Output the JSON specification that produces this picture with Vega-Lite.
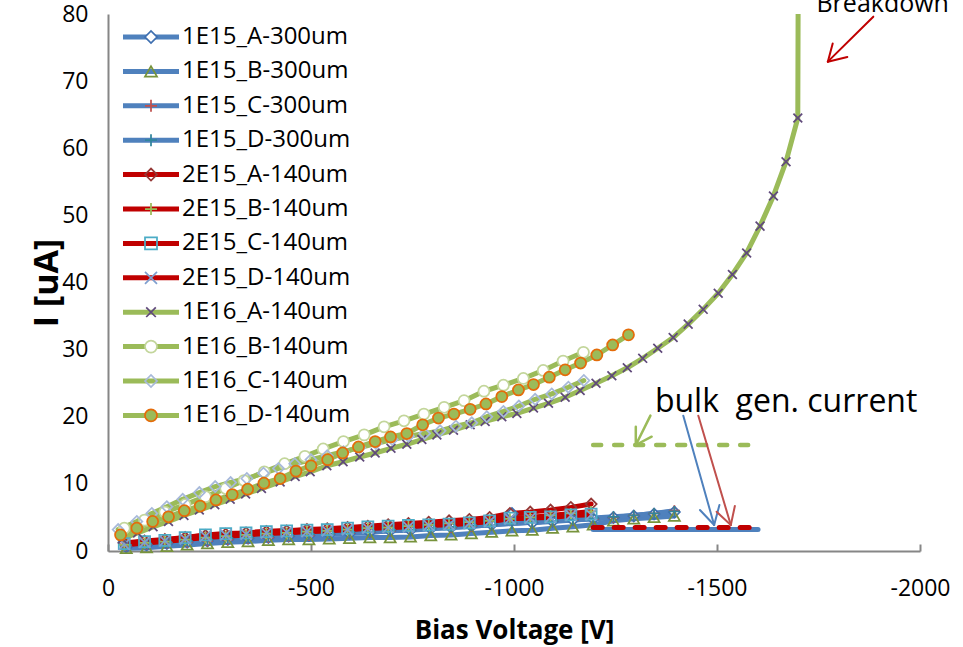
{
  "$schema": "https://vega.github.io/schema/vega-lite/v6.json",
  "width": 812,
  "height": 537,
  "autosize": {"type": "none"},
  "padding": {"left": 108, "top": 14, "right": 43, "bottom": 96},
  "background": "white",
  "config": {"view": {"stroke": null}, "font": "Open Sans", "axis": {"grid": false}},
  "datasets": {
    "iv": [
      {"s":"1E15_A-300um","V":-45,"I":0.6},{"s":"1E15_A-300um","V":-95,"I":0.9},{"s":"1E15_A-300um","V":-145,"I":1.1},{"s":"1E15_A-300um","V":-195,"I":1.3},{"s":"1E15_A-300um","V":-245,"I":1.5},{"s":"1E15_A-300um","V":-295,"I":1.7},{"s":"1E15_A-300um","V":-345,"I":1.9},{"s":"1E15_A-300um","V":-395,"I":2.0},{"s":"1E15_A-300um","V":-445,"I":2.2},{"s":"1E15_A-300um","V":-495,"I":2.3},{"s":"1E15_A-300um","V":-545,"I":2.5},{"s":"1E15_A-300um","V":-595,"I":2.6},{"s":"1E15_A-300um","V":-645,"I":2.8},{"s":"1E15_A-300um","V":-695,"I":3.0},{"s":"1E15_A-300um","V":-745,"I":3.1},{"s":"1E15_A-300um","V":-795,"I":3.3},{"s":"1E15_A-300um","V":-845,"I":3.5},{"s":"1E15_A-300um","V":-895,"I":3.7},{"s":"1E15_A-300um","V":-945,"I":3.9},{"s":"1E15_A-300um","V":-995,"I":5.6},{"s":"1E15_A-300um","V":-1045,"I":4.2},{"s":"1E15_A-300um","V":-1095,"I":4.4},{"s":"1E15_A-300um","V":-1145,"I":4.6},{"s":"1E15_A-300um","V":-1195,"I":4.8},{"s":"1E15_A-300um","V":-1245,"I":5.0},{"s":"1E15_A-300um","V":-1295,"I":5.2},{"s":"1E15_A-300um","V":-1345,"I":5.5},{"s":"1E15_A-300um","V":-1395,"I":5.8},
      {"s":"1E15_B-300um","V":-45,"I":0.4},{"s":"1E15_B-300um","V":-95,"I":0.5},{"s":"1E15_B-300um","V":-145,"I":0.7},{"s":"1E15_B-300um","V":-195,"I":0.9},{"s":"1E15_B-300um","V":-245,"I":1.1},{"s":"1E15_B-300um","V":-295,"I":1.3},{"s":"1E15_B-300um","V":-345,"I":1.4},{"s":"1E15_B-300um","V":-395,"I":1.6},{"s":"1E15_B-300um","V":-445,"I":1.7},{"s":"1E15_B-300um","V":-495,"I":1.7},{"s":"1E15_B-300um","V":-545,"I":1.8},{"s":"1E15_B-300um","V":-595,"I":1.9},{"s":"1E15_B-300um","V":-645,"I":2.0},{"s":"1E15_B-300um","V":-695,"I":2.0},{"s":"1E15_B-300um","V":-745,"I":2.1},{"s":"1E15_B-300um","V":-795,"I":2.3},{"s":"1E15_B-300um","V":-845,"I":2.4},{"s":"1E15_B-300um","V":-895,"I":2.6},{"s":"1E15_B-300um","V":-945,"I":2.8},{"s":"1E15_B-300um","V":-995,"I":3.0},{"s":"1E15_B-300um","V":-1045,"I":3.1},{"s":"1E15_B-300um","V":-1095,"I":3.4},{"s":"1E15_B-300um","V":-1145,"I":3.6},{"s":"1E15_B-300um","V":-1195,"I":3.9},{"s":"1E15_B-300um","V":-1245,"I":4.5},{"s":"1E15_B-300um","V":-1295,"I":4.8},{"s":"1E15_B-300um","V":-1345,"I":5.0},{"s":"1E15_B-300um","V":-1395,"I":5.2},
      {"s":"1E15_C-300um","V":-45,"I":0.8},{"s":"1E15_C-300um","V":-95,"I":1.0},{"s":"1E15_C-300um","V":-145,"I":1.2},{"s":"1E15_C-300um","V":-195,"I":1.3},{"s":"1E15_C-300um","V":-245,"I":1.5},{"s":"1E15_C-300um","V":-295,"I":1.7},{"s":"1E15_C-300um","V":-345,"I":1.9},{"s":"1E15_C-300um","V":-395,"I":2.0},{"s":"1E15_C-300um","V":-445,"I":2.2},{"s":"1E15_C-300um","V":-495,"I":2.3},{"s":"1E15_C-300um","V":-545,"I":2.5},{"s":"1E15_C-300um","V":-595,"I":2.7},{"s":"1E15_C-300um","V":-645,"I":2.8},{"s":"1E15_C-300um","V":-695,"I":3.0},{"s":"1E15_C-300um","V":-745,"I":3.2},{"s":"1E15_C-300um","V":-795,"I":3.4},{"s":"1E15_C-300um","V":-845,"I":3.5},{"s":"1E15_C-300um","V":-895,"I":3.7},{"s":"1E15_C-300um","V":-945,"I":3.9},{"s":"1E15_C-300um","V":-995,"I":4.1},{"s":"1E15_C-300um","V":-1045,"I":4.3},{"s":"1E15_C-300um","V":-1095,"I":4.5},{"s":"1E15_C-300um","V":-1145,"I":4.6},{"s":"1E15_C-300um","V":-1195,"I":4.8},{"s":"1E15_C-300um","V":-1245,"I":5.0},{"s":"1E15_C-300um","V":-1295,"I":5.3},{"s":"1E15_C-300um","V":-1345,"I":5.6},{"s":"1E15_C-300um","V":-1395,"I":6.0},
      {"s":"1E15_D-300um","V":-45,"I":0.9},{"s":"1E15_D-300um","V":-95,"I":1.1},{"s":"1E15_D-300um","V":-145,"I":1.3},{"s":"1E15_D-300um","V":-195,"I":1.5},{"s":"1E15_D-300um","V":-245,"I":1.7},{"s":"1E15_D-300um","V":-295,"I":1.9},{"s":"1E15_D-300um","V":-345,"I":2.0},{"s":"1E15_D-300um","V":-395,"I":2.2},{"s":"1E15_D-300um","V":-445,"I":2.3},{"s":"1E15_D-300um","V":-495,"I":2.5},{"s":"1E15_D-300um","V":-545,"I":2.6},{"s":"1E15_D-300um","V":-595,"I":2.8},{"s":"1E15_D-300um","V":-645,"I":2.9},{"s":"1E15_D-300um","V":-695,"I":3.1},{"s":"1E15_D-300um","V":-745,"I":3.2},{"s":"1E15_D-300um","V":-795,"I":3.4},{"s":"1E15_D-300um","V":-845,"I":3.6},{"s":"1E15_D-300um","V":-895,"I":3.8},{"s":"1E15_D-300um","V":-945,"I":3.9},{"s":"1E15_D-300um","V":-995,"I":4.1},{"s":"1E15_D-300um","V":-1045,"I":4.3},{"s":"1E15_D-300um","V":-1095,"I":4.5},{"s":"1E15_D-300um","V":-1145,"I":4.7},{"s":"1E15_D-300um","V":-1195,"I":4.9},{"s":"1E15_D-300um","V":-1245,"I":5.1},{"s":"1E15_D-300um","V":-1295,"I":5.3},{"s":"1E15_D-300um","V":-1345,"I":5.6},{"s":"1E15_D-300um","V":-1395,"I":5.9},
      {"s":"2E15_A-140um","V":-40,"I":1.2},{"s":"2E15_A-140um","V":-90,"I":1.5},{"s":"2E15_A-140um","V":-140,"I":1.7},{"s":"2E15_A-140um","V":-190,"I":2.0},{"s":"2E15_A-140um","V":-240,"I":2.3},{"s":"2E15_A-140um","V":-290,"I":2.5},{"s":"2E15_A-140um","V":-340,"I":2.7},{"s":"2E15_A-140um","V":-390,"I":2.9},{"s":"2E15_A-140um","V":-440,"I":3.0},{"s":"2E15_A-140um","V":-490,"I":3.2},{"s":"2E15_A-140um","V":-540,"I":3.3},{"s":"2E15_A-140um","V":-590,"I":3.5},{"s":"2E15_A-140um","V":-640,"I":3.7},{"s":"2E15_A-140um","V":-690,"I":3.9},{"s":"2E15_A-140um","V":-740,"I":4.1},{"s":"2E15_A-140um","V":-790,"I":4.3},{"s":"2E15_A-140um","V":-840,"I":4.5},{"s":"2E15_A-140um","V":-890,"I":4.7},{"s":"2E15_A-140um","V":-940,"I":5.0},{"s":"2E15_A-140um","V":-990,"I":5.6},{"s":"2E15_A-140um","V":-1040,"I":5.8},{"s":"2E15_A-140um","V":-1090,"I":6.1},{"s":"2E15_A-140um","V":-1140,"I":6.5},{"s":"2E15_A-140um","V":-1190,"I":7.0},
      {"s":"2E15_B-140um","V":-40,"I":0.9},{"s":"2E15_B-140um","V":-90,"I":1.2},{"s":"2E15_B-140um","V":-140,"I":1.4},{"s":"2E15_B-140um","V":-190,"I":1.7},{"s":"2E15_B-140um","V":-240,"I":2.0},{"s":"2E15_B-140um","V":-290,"I":2.2},{"s":"2E15_B-140um","V":-340,"I":2.4},{"s":"2E15_B-140um","V":-390,"I":2.6},{"s":"2E15_B-140um","V":-440,"I":2.7},{"s":"2E15_B-140um","V":-490,"I":2.9},{"s":"2E15_B-140um","V":-540,"I":3.0},{"s":"2E15_B-140um","V":-590,"I":3.2},{"s":"2E15_B-140um","V":-640,"I":3.4},{"s":"2E15_B-140um","V":-690,"I":3.5},{"s":"2E15_B-140um","V":-740,"I":3.7},{"s":"2E15_B-140um","V":-790,"I":3.9},{"s":"2E15_B-140um","V":-840,"I":4.1},{"s":"2E15_B-140um","V":-890,"I":4.3},{"s":"2E15_B-140um","V":-940,"I":4.5},{"s":"2E15_B-140um","V":-990,"I":4.8},{"s":"2E15_B-140um","V":-1040,"I":5.0},{"s":"2E15_B-140um","V":-1090,"I":5.3},{"s":"2E15_B-140um","V":-1140,"I":5.6},{"s":"2E15_B-140um","V":-1190,"I":5.9},
      {"s":"2E15_C-140um","V":-40,"I":1.1},{"s":"2E15_C-140um","V":-90,"I":1.4},{"s":"2E15_C-140um","V":-140,"I":1.6},{"s":"2E15_C-140um","V":-190,"I":2.0},{"s":"2E15_C-140um","V":-240,"I":2.4},{"s":"2E15_C-140um","V":-290,"I":2.6},{"s":"2E15_C-140um","V":-340,"I":2.7},{"s":"2E15_C-140um","V":-390,"I":2.9},{"s":"2E15_C-140um","V":-440,"I":3.0},{"s":"2E15_C-140um","V":-490,"I":3.1},{"s":"2E15_C-140um","V":-540,"I":3.2},{"s":"2E15_C-140um","V":-590,"I":3.4},{"s":"2E15_C-140um","V":-640,"I":3.6},{"s":"2E15_C-140um","V":-690,"I":3.7},{"s":"2E15_C-140um","V":-740,"I":3.8},{"s":"2E15_C-140um","V":-790,"I":3.9},{"s":"2E15_C-140um","V":-840,"I":4.0},{"s":"2E15_C-140um","V":-890,"I":4.2},{"s":"2E15_C-140um","V":-940,"I":4.5},{"s":"2E15_C-140um","V":-990,"I":4.9},{"s":"2E15_C-140um","V":-1040,"I":5.0},{"s":"2E15_C-140um","V":-1090,"I":5.1},{"s":"2E15_C-140um","V":-1140,"I":5.4},{"s":"2E15_C-140um","V":-1190,"I":5.5},
      {"s":"2E15_D-140um","V":-40,"I":1.0},{"s":"2E15_D-140um","V":-90,"I":1.3},{"s":"2E15_D-140um","V":-140,"I":1.5},{"s":"2E15_D-140um","V":-190,"I":1.8},{"s":"2E15_D-140um","V":-240,"I":2.2},{"s":"2E15_D-140um","V":-290,"I":2.4},{"s":"2E15_D-140um","V":-340,"I":2.5},{"s":"2E15_D-140um","V":-390,"I":2.7},{"s":"2E15_D-140um","V":-440,"I":2.8},{"s":"2E15_D-140um","V":-490,"I":2.9},{"s":"2E15_D-140um","V":-540,"I":3.0},{"s":"2E15_D-140um","V":-590,"I":3.2},{"s":"2E15_D-140um","V":-640,"I":3.4},{"s":"2E15_D-140um","V":-690,"I":3.5},{"s":"2E15_D-140um","V":-740,"I":3.6},{"s":"2E15_D-140um","V":-790,"I":3.8},{"s":"2E15_D-140um","V":-840,"I":3.9},{"s":"2E15_D-140um","V":-890,"I":4.1},{"s":"2E15_D-140um","V":-940,"I":4.4},{"s":"2E15_D-140um","V":-990,"I":4.8},{"s":"2E15_D-140um","V":-1040,"I":4.9},{"s":"2E15_D-140um","V":-1090,"I":5.0},{"s":"2E15_D-140um","V":-1140,"I":5.3},{"s":"2E15_D-140um","V":-1190,"I":5.4},
      {"s":"1E16_A-140um","V":-35,"I":1.8},{"s":"1E16_A-140um","V":-73,"I":2.7},{"s":"1E16_A-140um","V":-111,"I":3.6},{"s":"1E16_A-140um","V":-149,"I":4.4},{"s":"1E16_A-140um","V":-187,"I":5.3},{"s":"1E16_A-140um","V":-225,"I":6.1},{"s":"1E16_A-140um","V":-263,"I":6.9},{"s":"1E16_A-140um","V":-301,"I":7.7},{"s":"1E16_A-140um","V":-339,"I":8.5},{"s":"1E16_A-140um","V":-378,"I":9.3},{"s":"1E16_A-140um","V":-424,"I":10.3},{"s":"1E16_A-140um","V":-461,"I":11.1},{"s":"1E16_A-140um","V":-498,"I":11.8},{"s":"1E16_A-140um","V":-539,"I":12.7},{"s":"1E16_A-140um","V":-579,"I":13.3},{"s":"1E16_A-140um","V":-620,"I":14.0},{"s":"1E16_A-140um","V":-658,"I":14.6},{"s":"1E16_A-140um","V":-697,"I":15.3},{"s":"1E16_A-140um","V":-736,"I":15.9},{"s":"1E16_A-140um","V":-773,"I":16.6},{"s":"1E16_A-140um","V":-810,"I":17.3},{"s":"1E16_A-140um","V":-851,"I":18.0},{"s":"1E16_A-140um","V":-892,"I":18.8},{"s":"1E16_A-140um","V":-929,"I":19.3},{"s":"1E16_A-140um","V":-970,"I":20.0},{"s":"1E16_A-140um","V":-1007,"I":20.5},{"s":"1E16_A-140um","V":-1048,"I":21.3},{"s":"1E16_A-140um","V":-1085,"I":22.0},{"s":"1E16_A-140um","V":-1126,"I":22.9},{"s":"1E16_A-140um","V":-1163,"I":23.9},{"s":"1E16_A-140um","V":-1202,"I":25.0},{"s":"1E16_A-140um","V":-1241,"I":26.1},{"s":"1E16_A-140um","V":-1279,"I":27.3},{"s":"1E16_A-140um","V":-1317,"I":28.7},{"s":"1E16_A-140um","V":-1354,"I":30.2},{"s":"1E16_A-140um","V":-1392,"I":31.8},{"s":"1E16_A-140um","V":-1429,"I":33.8},{"s":"1E16_A-140um","V":-1466,"I":36.0},{"s":"1E16_A-140um","V":-1503,"I":38.4},{"s":"1E16_A-140um","V":-1538,"I":41.2},{"s":"1E16_A-140um","V":-1573,"I":44.4},{"s":"1E16_A-140um","V":-1606,"I":48.4},{"s":"1E16_A-140um","V":-1639,"I":52.9},{"s":"1E16_A-140um","V":-1670,"I":58.0},{"s":"1E16_A-140um","V":-1699,"I":64.5},{"s":"1E16_A-140um","V":-1700,"I":85},
      {"s":"1E16_B-140um","V":-40,"I":3.4},{"s":"1E16_B-140um","V":-90,"I":4.6},{"s":"1E16_B-140um","V":-140,"I":5.8},{"s":"1E16_B-140um","V":-190,"I":6.9},{"s":"1E16_B-140um","V":-240,"I":8.1},{"s":"1E16_B-140um","V":-290,"I":9.3},{"s":"1E16_B-140um","V":-335,"I":10.5},{"s":"1E16_B-140um","V":-385,"I":11.8},{"s":"1E16_B-140um","V":-435,"I":13.0},{"s":"1E16_B-140um","V":-485,"I":14.1},{"s":"1E16_B-140um","V":-530,"I":15.2},{"s":"1E16_B-140um","V":-580,"I":16.3},{"s":"1E16_B-140um","V":-631,"I":17.3},{"s":"1E16_B-140um","V":-680,"I":18.5},{"s":"1E16_B-140um","V":-729,"I":19.4},{"s":"1E16_B-140um","V":-778,"I":20.4},{"s":"1E16_B-140um","V":-828,"I":21.4},{"s":"1E16_B-140um","V":-877,"I":22.4},{"s":"1E16_B-140um","V":-926,"I":23.8},{"s":"1E16_B-140um","V":-974,"I":24.7},{"s":"1E16_B-140um","V":-1023,"I":25.7},{"s":"1E16_B-140um","V":-1072,"I":26.9},{"s":"1E16_B-140um","V":-1121,"I":28.3},{"s":"1E16_B-140um","V":-1171,"I":29.6},
      {"s":"1E16_C-140um","V":-25,"I":3.2},{"s":"1E16_C-140um","V":-71,"I":4.4},{"s":"1E16_C-140um","V":-108,"I":5.6},{"s":"1E16_C-140um","V":-145,"I":6.6},{"s":"1E16_C-140um","V":-184,"I":7.7},{"s":"1E16_C-140um","V":-225,"I":8.7},{"s":"1E16_C-140um","V":-264,"I":9.6},{"s":"1E16_C-140um","V":-302,"I":10.2},{"s":"1E16_C-140um","V":-342,"I":10.8},{"s":"1E16_C-140um","V":-383,"I":11.6},{"s":"1E16_C-140um","V":-420,"I":12.3},{"s":"1E16_C-140um","V":-460,"I":13.0},{"s":"1E16_C-140um","V":-500,"I":13.6},{"s":"1E16_C-140um","V":-540,"I":14.2},{"s":"1E16_C-140um","V":-580,"I":14.8},{"s":"1E16_C-140um","V":-620,"I":15.4},{"s":"1E16_C-140um","V":-660,"I":16.0},{"s":"1E16_C-140um","V":-700,"I":16.6},{"s":"1E16_C-140um","V":-740,"I":17.1},{"s":"1E16_C-140um","V":-780,"I":17.5},{"s":"1E16_C-140um","V":-818,"I":17.9},{"s":"1E16_C-140um","V":-857,"I":18.6},{"s":"1E16_C-140um","V":-896,"I":19.1},{"s":"1E16_C-140um","V":-933,"I":20.0},{"s":"1E16_C-140um","V":-974,"I":20.8},{"s":"1E16_C-140um","V":-1012,"I":21.6},{"s":"1E16_C-140um","V":-1052,"I":22.6},{"s":"1E16_C-140um","V":-1093,"I":23.4},{"s":"1E16_C-140um","V":-1134,"I":24.4},{"s":"1E16_C-140um","V":-1172,"I":25.4},
      {"s":"1E16_D-140um","V":-31,"I":2.4},{"s":"1E16_D-140um","V":-71,"I":3.4},{"s":"1E16_D-140um","V":-110,"I":4.4},{"s":"1E16_D-140um","V":-149,"I":5.1},{"s":"1E16_D-140um","V":-188,"I":6.0},{"s":"1E16_D-140um","V":-227,"I":6.7},{"s":"1E16_D-140um","V":-266,"I":7.6},{"s":"1E16_D-140um","V":-306,"I":8.4},{"s":"1E16_D-140um","V":-344,"I":9.2},{"s":"1E16_D-140um","V":-384,"I":10.1},{"s":"1E16_D-140um","V":-424,"I":10.8},{"s":"1E16_D-140um","V":-463,"I":11.9},{"s":"1E16_D-140um","V":-500,"I":12.7},{"s":"1E16_D-140um","V":-541,"I":13.6},{"s":"1E16_D-140um","V":-578,"I":14.6},{"s":"1E16_D-140um","V":-617,"I":15.5},{"s":"1E16_D-140um","V":-658,"I":16.3},{"s":"1E16_D-140um","V":-696,"I":17.0},{"s":"1E16_D-140um","V":-736,"I":17.5},{"s":"1E16_D-140um","V":-775,"I":18.8},{"s":"1E16_D-140um","V":-814,"I":19.8},{"s":"1E16_D-140um","V":-852,"I":20.4},{"s":"1E16_D-140um","V":-892,"I":21.1},{"s":"1E16_D-140um","V":-931,"I":21.9},{"s":"1E16_D-140um","V":-970,"I":23.0},{"s":"1E16_D-140um","V":-1011,"I":24.0},{"s":"1E16_D-140um","V":-1048,"I":24.8},{"s":"1E16_D-140um","V":-1087,"I":25.9},{"s":"1E16_D-140um","V":-1126,"I":27.0},{"s":"1E16_D-140um","V":-1164,"I":28.0},{"s":"1E16_D-140um","V":-1204,"I":29.2},{"s":"1E16_D-140um","V":-1243,"I":30.7},{"s":"1E16_D-140um","V":-1282,"I":32.2}
    ],
    "arrows": [
      {"a":"green","V1":-1336,"I1":20.16,"V2":-1300,"I2":15.79},
      {"a":"green","V1":-1300,"I1":18.52,"V2":-1300,"I2":15.79},
      {"a":"green","V1":-1339,"I1":17.03,"V2":-1300,"I2":15.79},
      {"a":"blue","V1":-1417,"I1":20.16,"V2":-1493,"I2":3.87},
      {"a":"blue","V1":-1458,"I1":6.11,"V2":-1493,"I2":3.87},
      {"a":"blue","V1":-1506,"I1":6.85,"V2":-1493,"I2":3.87},
      {"a":"red","V1":-1454,"I1":20.16,"V2":-1534,"I2":3.87},
      {"a":"red","V1":-1499,"I1":5.85,"V2":-1534,"I2":3.87},
      {"a":"red","V1":-1544,"I1":6.7,"V2":-1534,"I2":3.87},
      {"a":"break","V1":-1885,"I1":79.6,"V2":-1773,"I2":72.9},
      {"a":"break","V1":-1785,"I1":75.6,"V2":-1773,"I2":72.9},
      {"a":"break","V1":-1821,"I1":73.6,"V2":-1773,"I2":72.9}
    ]
  },
  "layer": [
    {
      "data": {"name": "iv"},
      "mark": {"type": "line", "strokeWidth": 5, "strokeCap": "round", "strokeJoin": "round", "clip": true},
      "encoding": {
        "x": {"field": "V", "type": "quantitative", "title": "Bias Voltage [V]",
          "scale": {"domain": [0, -2000], "nice": false, "zero": false},
          "axis": {"values": [0, -500, -1000, -1500, -2000], "labelExpr": "'' + datum.value", "labelFontSize": 23, "labelColor": "black", "labelFont": "Open Sans", "labelFlush": false, "labelPadding": 33, "titleFontSize": 26, "titleFontWeight": "bold", "titleColor": "black", "titleFont": "Open Sans", "titlePadding": 17, "domainColor": "#868686", "domainWidth": 2, "ticks": true, "tickColor": "#868686", "tickWidth": 2, "tickSize": -7}},
        "y": {"field": "I", "type": "quantitative", "title": "I [uA]",
          "scale": {"domain": [0, 80], "nice": false},
          "axis": {"values": [0, 10, 20, 30, 40, 50, 60, 70, 80], "labelFontSize": 23, "labelColor": "black", "labelFont": "Open Sans", "labelFlush": false, "labelPadding": 20, "ticks": false, "titleFontSize": 34, "titleFontWeight": "bold", "titleColor": "black", "titleFont": "Open Sans", "titlePadding": -3, "domainColor": "#868686", "domainWidth": 2}},
        "color": {"field": "s", "type": "nominal",
          "scale": {"domain": ["1E15_A-300um","1E15_B-300um","1E15_C-300um","1E15_D-300um","2E15_A-140um","2E15_B-140um","2E15_C-140um","2E15_D-140um","1E16_A-140um","1E16_B-140um","1E16_C-140um","1E16_D-140um"],
            "range": ["#4F81BD","#4F81BD","#4F81BD","#4F81BD","#C00000","#C00000","#C00000","#C00000","#9BBB59","#9BBB59","#9BBB59","#9BBB59"]},
          "legend": {"orient": "none", "legendX": 14, "legendY": 11, "title": null, "direction": "vertical", "columns": 1, "padding": 0, "symbolType": "M-4.667,0L4.667,0", "symbolSize": 144, "symbolStrokeWidth": 5, "symbolOffset": 17, "labelOffset": 19, "labelFontSize": 24, "labelFont": "Open Sans", "labelColor": "black", "labelLimit": 400, "rowPadding": 10.4}}
      }
    },
    {
      "data": {"name": "iv"},
      "transform": [{"filter": "datum.I <= 80"}],
      "mark": {"type": "point", "filled": false, "opacity": 1, "size": 121, "strokeWidth": 1.75},
      "encoding": {
        "x": {"field": "V", "type": "quantitative", "title": "Bias Voltage [V]"},
        "y": {"field": "I", "type": "quantitative", "title": "I [uA]"},
        "shape": {"field": "s", "type": "nominal",
          "scale": {"domain": ["1E15_A-300um","1E15_B-300um","1E15_C-300um","1E15_D-300um","2E15_A-140um","2E15_B-140um","2E15_C-140um","2E15_D-140um","1E16_A-140um","1E16_B-140um","1E16_C-140um","1E16_D-140um"],
            "range": ["diamond","triangle-up","M-1,0L1,0M0,-1L0,1","M-1,0L1,0M0,-1L0,1","diamond","M-1,0L1,0M0,-1L0,1","square","M-1,-1L1,1M-1,1L1,-1","M-0.8,-0.8L0.8,0.8M-0.8,0.8L0.8,-0.8","circle","diamond","circle"]},
          "legend": {"orient": "none", "legendX": 14, "legendY": 11, "title": null, "direction": "vertical", "columns": 1, "padding": 0, "symbolSize": 144, "symbolStrokeWidth": 1.75, "symbolOffset": 17, "labelOffset": 19, "labelFontSize": 24, "labelFont": "Open Sans", "labelColor": "transparent", "labelLimit": 400, "rowPadding": 10.4}},
        "stroke": {"field": "s", "type": "nominal",
          "scale": {"domain": ["1E15_A-300um","1E15_B-300um","1E15_C-300um","1E15_D-300um","2E15_A-140um","2E15_B-140um","2E15_C-140um","2E15_D-140um","1E16_A-140um","1E16_B-140um","1E16_C-140um","1E16_D-140um"],
            "range": ["#3E6FB0","#77933C","#C0504D","#31859C","#953735","#9BBB59","#4BACC6","#7F9FCF","#604A7B","#C3D69B","#A7B9DA","#E46C0A"]},
          "legend": {"orient": "none", "legendX": 14, "legendY": 11, "title": null, "direction": "vertical", "columns": 1, "padding": 0, "symbolSize": 144, "symbolStrokeWidth": 1.75, "symbolOffset": 17, "labelOffset": 19, "labelFontSize": 24, "labelFont": "Open Sans", "labelColor": "transparent", "labelLimit": 400, "rowPadding": 10.4}},
        "fill": {"field": "s", "type": "nominal",
          "scale": {"domain": ["1E15_A-300um","1E15_B-300um","1E15_C-300um","1E15_D-300um","2E15_A-140um","2E15_B-140um","2E15_C-140um","2E15_D-140um","1E16_A-140um","1E16_B-140um","1E16_C-140um","1E16_D-140um"],
            "range": ["white","transparent","transparent","transparent","transparent","transparent","transparent","transparent","transparent","white","transparent","#9BBB59"]},
          "legend": {"orient": "none", "legendX": 14, "legendY": 11, "title": null, "direction": "vertical", "columns": 1, "padding": 0, "symbolSize": 144, "symbolStrokeWidth": 1.75, "symbolOffset": 17, "labelOffset": 19, "labelFontSize": 24, "labelFont": "Open Sans", "labelColor": "transparent", "labelLimit": 400, "rowPadding": 10.4}}
      }
    },
    {
      "data": {"values": [{"V": -1195, "I": 3.2}, {"V": -1601, "I": 3.2}]},
      "mark": {"type": "line", "color": "#4F81BD", "strokeWidth": 5, "strokeCap": "round"},
      "encoding": {"x": {"field": "V", "type": "quantitative", "title": "Bias Voltage [V]"}, "y": {"field": "I", "type": "quantitative", "title": "I [uA]"}}
    },
    {
      "data": {"values": [{"V": -1195, "I": 3.5}, {"V": -1601, "I": 3.5}]},
      "mark": {"type": "line", "color": "#C00000", "strokeWidth": 5, "strokeCap": "round", "strokeDash": [9, 12]},
      "encoding": {"x": {"field": "V", "type": "quantitative", "title": "Bias Voltage [V]"}, "y": {"field": "I", "type": "quantitative", "title": "I [uA]"}}
    },
    {
      "data": {"values": [{"V": -1195, "I": 15.8}, {"V": -1601, "I": 15.8}]},
      "mark": {"type": "line", "color": "#9BBB59", "strokeWidth": 4.5, "strokeCap": "round", "strokeDash": [8, 13]},
      "encoding": {"x": {"field": "V", "type": "quantitative", "title": "Bias Voltage [V]"}, "y": {"field": "I", "type": "quantitative", "title": "I [uA]"}}
    },
    {
      "data": {"name": "arrows"},
      "transform": [{"filter": "datum.a == 'green'"}],
      "mark": {"type": "rule", "color": "#9BBB59", "strokeWidth": 2.5, "strokeCap": "round"},
      "encoding": {"x": {"field": "V1", "type": "quantitative", "title": "Bias Voltage [V]"}, "y": {"field": "I1", "type": "quantitative", "title": "I [uA]"}, "x2": {"field": "V2", "title": "Bias Voltage [V]"}, "y2": {"field": "I2", "title": "I [uA]"}}
    },
    {
      "data": {"name": "arrows"},
      "transform": [{"filter": "datum.a == 'blue'"}],
      "mark": {"type": "rule", "color": "#4F81BD", "strokeWidth": 2, "strokeCap": "round"},
      "encoding": {"x": {"field": "V1", "type": "quantitative", "title": "Bias Voltage [V]"}, "y": {"field": "I1", "type": "quantitative", "title": "I [uA]"}, "x2": {"field": "V2", "title": "Bias Voltage [V]"}, "y2": {"field": "I2", "title": "I [uA]"}}
    },
    {
      "data": {"name": "arrows"},
      "transform": [{"filter": "datum.a == 'red'"}],
      "mark": {"type": "rule", "color": "#C0504D", "strokeWidth": 2, "strokeCap": "round"},
      "encoding": {"x": {"field": "V1", "type": "quantitative", "title": "Bias Voltage [V]"}, "y": {"field": "I1", "type": "quantitative", "title": "I [uA]"}, "x2": {"field": "V2", "title": "Bias Voltage [V]"}, "y2": {"field": "I2", "title": "I [uA]"}}
    },
    {
      "data": {"name": "arrows"},
      "transform": [{"filter": "datum.a == 'break'"}],
      "mark": {"type": "rule", "color": "#C00000", "strokeWidth": 2, "strokeCap": "round"},
      "encoding": {"x": {"field": "V1", "type": "quantitative", "title": "Bias Voltage [V]"}, "y": {"field": "I1", "type": "quantitative", "title": "I [uA]"}, "x2": {"field": "V2", "title": "Bias Voltage [V]"}, "y2": {"field": "I2", "title": "I [uA]"}}
    },
    {
      "data": {"values": [{"t": "bulk\u00a0 gen. current", "V": -1347, "I": 20.7}]},
      "mark": {"type": "text", "align": "left", "baseline": "alphabetic", "fontSize": 32, "font": "Open Sans", "color": "black"},
      "encoding": {"x": {"field": "V", "type": "quantitative", "title": "Bias Voltage [V]"}, "y": {"field": "I", "type": "quantitative", "title": "I [uA]"}, "text": {"field": "t"}}
    },
    {
      "data": {"values": [{"t": "Breakdown", "V": -1745, "I": 80.3}]},
      "mark": {"type": "text", "align": "left", "baseline": "alphabetic", "fontSize": 25, "font": "Open Sans", "color": "black"},
      "encoding": {"x": {"field": "V", "type": "quantitative", "title": "Bias Voltage [V]"}, "y": {"field": "I", "type": "quantitative", "title": "I [uA]"}, "text": {"field": "t"}}
    }
  ],
  "resolve": {"legend": {"color": "independent", "shape": "independent", "stroke": "independent", "fill": "independent"}}
}
